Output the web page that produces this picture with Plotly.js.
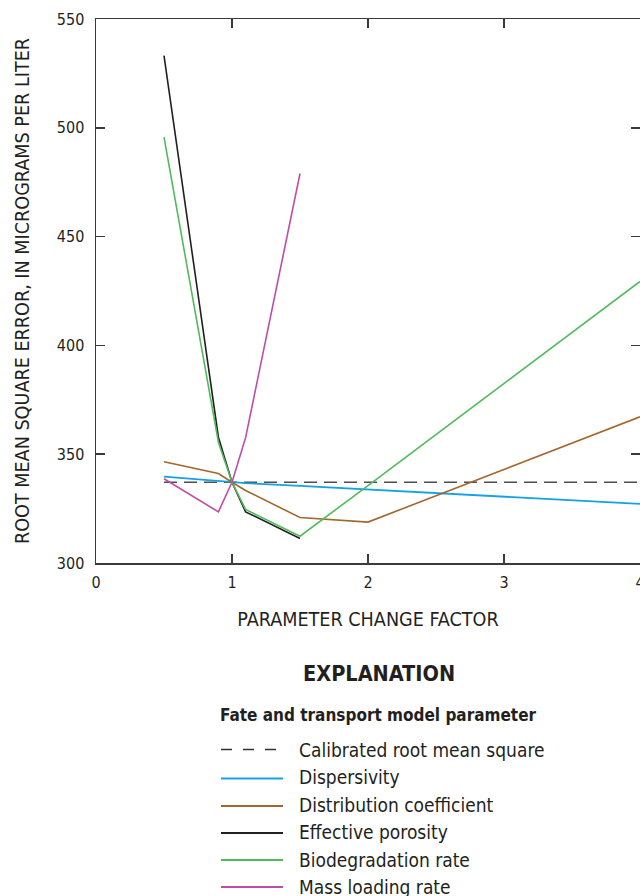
<!DOCTYPE html>
<html>
<head>
<meta charset="utf-8">
<script src="https://cdn.plot.ly/plotly-3.0.1.min.js"></script>
<style>
  html, body { margin: 0; padding: 0; background: #fff; overflow: hidden; }
  #chart { width: 660px; height: 896px; }
</style>
</head>
<body>
<div id="chart"></div>
<script>
// ---- data ----
const factorFull  = [0.5, 0.9, 1, 1.1, 1.5, 2, 4];
const factorShort = [0.5, 0.9, 1, 1.1, 1.5];
const calibratedX = [0.5, 4];
const calibratedRMS = [337.1, 337.1];
const dispersivity = [339.7, 337.7, 337.1, 336.7, 335.4, 333.8, 327.2];
const distributionCoef = [346.5, 341.1, 337.1, 333.3, 320.9, 318.8, 367.2];
const effectivePorosity = [533.2, 357.8, 337.1, 323.5, 311.3];
const biodegradation = [495.7, 355.5, 337.1, 324.6, 312.3, 335.6, 429.4];
const massLoading = [338.7, 323.5, 337.1, 357.6, 479.0];

const seriesNames = ["Calibrated root mean square", "Dispersivity", "Distribution coefficient",
                     "Effective porosity", "Biodegradation rate", "Mass loading rate"];
const xTicks = [0, 1, 2, 3, 4];
const yTicks = [300, 350, 400, 450, 500, 550];

// ---- styles ----
const FONT = "'DejaVu Sans Condensed', 'Liberation Sans Narrow', sans-serif";
const TXT = "#231f20";
const AX = "#3a3a3a";
const colors = ["#4d4d4d", "#12a3e0", "#a3672e", "#231f20", "#4fbc5c", "#c04ca5"];

const traces = [
  {x: calibratedX, y: calibratedRMS, line: {color: colors[0], width: 1.5, dash: "13px,7px"}},
  {x: factorFull, y: dispersivity, line: {color: colors[1], width: 1.8}},
  {x: factorFull, y: distributionCoef, line: {color: colors[2], width: 1.6}},
  {x: factorShort, y: effectivePorosity, line: {color: colors[3], width: 1.6}},
  {x: factorFull, y: biodegradation, line: {color: colors[4], width: 1.6}},
  {x: factorShort, y: massLoading, line: {color: colors[5], width: 1.6}}
].map((t, i) => Object.assign(t, {type: "scatter", mode: "lines", name: seriesNames[i], showlegend: false}));

// ---- legend drawn below the plot (pixel -> paper helpers) ----
const PL = 96, PW = 544, PT = 19, PH = 544;
const px = v => (v - PL) / PW;
const py = v => (PT + PH - v) / PH;

const rowY = [749.5, 777, 804.5, 832, 859.5, 887];
const lineY = [749.5, 778.5, 806, 833, 860, 887];
const shapes = [];
const annotations = [];
seriesNames.forEach((n, i) => {
  shapes.push({type: "line", xref: "paper", yref: "paper",
    x0: px(221), x1: px(i === 0 ? 276 : 283), y0: py(lineY[i]), y1: py(lineY[i]),
    line: {color: i === 0 ? "#333" : colors[i], width: i === 0 ? 1.3 : 2, dash: i === 0 ? "11px,11px" : "solid"}});
  annotations.push({xref: "paper", yref: "paper", x: px(297), y: py(rowY[i]),
    xanchor: "left", yanchor: "middle", showarrow: false, text: n,
    font: {family: FONT, size: 19, color: TXT}});
});
annotations.push({xref: "paper", yref: "paper", x: px(379), y: py(673), xanchor: "center", yanchor: "middle",
  showarrow: false, text: "<b>EXPLANATION</b>", font: {family: FONT, size: 21.5, color: TXT}});
annotations.push({xref: "paper", yref: "paper", x: px(378), y: py(714.5), xanchor: "center", yanchor: "middle",
  showarrow: false, text: "<b>Fate and transport model parameter</b>", font: {family: FONT, size: 17, color: TXT}});

const axisCommon = {
  showline: true, linecolor: AX, linewidth: 1.5, mirror: "ticks",
  ticks: "inside", ticklen: 9, tickwidth: 1.5, tickcolor: AX,
  showgrid: false, zeroline: false, fixedrange: true,
  tickfont: {family: FONT, size: 16, color: TXT}
};

const layout = {
  width: 660, height: 896,
  margin: {l: PL, r: 660 - PL - PW, t: PT, b: 896 - PT - PH},
  paper_bgcolor: "#fff", plot_bgcolor: "#fff",
  font: {family: FONT, color: TXT},
  xaxis: Object.assign({}, axisCommon, {
    range: [0, 4], tickvals: xTicks, ticktext: xTicks.map(String), ticklabelstandoff: 4,
    title: {text: "PARAMETER CHANGE FACTOR", font: {family: FONT, size: 19.6, color: TXT}, standoff: 21}
  }),
  yaxis: Object.assign({}, axisCommon, {
    range: [300, 550], tickvals: yTicks, ticktext: yTicks.map(String), ticklabelstandoff: 7,
    title: {text: "ROOT MEAN SQUARE ERROR, IN MICROGRAMS PER LITER", font: {family: FONT, size: 19.6, color: TXT}, standoff: 22}
  }),
  shapes: shapes,
  annotations: annotations
};

Plotly.newPlot("chart", traces, layout, {displayModeBar: false, staticPlot: true});
</script>
</body>
</html>
